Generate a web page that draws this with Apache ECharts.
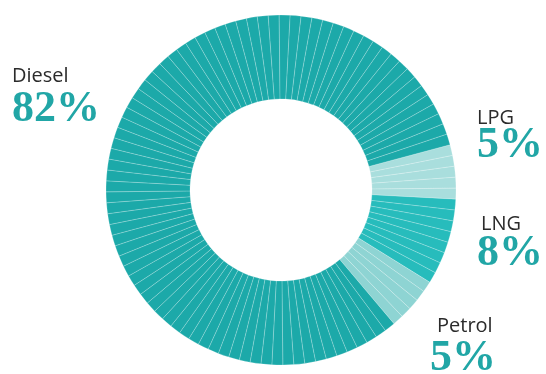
<!DOCTYPE html>
<html>
<head>
<meta charset="utf-8">
<script src="https://cdn.jsdelivr.net/npm/echarts@6/dist/echarts.min.js"></script>
<style>
  html, body { margin: 0; padding: 0; background: #ffffff; }
  #chart { width: 546px; height: 374px; }
</style>
</head>
<body>
<div id="chart"></div>
<script>
// Fuel mix shares (percent), listed clockwise starting from LPG
const categories = ['LPG', 'LNG', 'Petrol', 'Diesel'];
const values = [5, 8, 5, 82];

const sliceColors = {
  LPG: '#a9dedd',
  LNG: '#27bcbc',
  Petrol: '#8ed4d3',
  Diesel: '#1ca9a9'
};

// Label placement for each fuel: name line and percent line
const labelPos = {
  Diesel: { x: 12, nameY: 78, pctY: 110 },
  LPG:    { x: 477, nameY: 120, pctY: 146 },
  LNG:    { x: 481, nameY: 226, pctY: 254, pctX: 477 },
  Petrol: { x: 437, nameY: 328, pctY: 359, pctX: 430 }
};

// Each percentage point becomes its own thin wedge, giving the striped ring
const pieData = [];
categories.forEach((name, i) => {
  for (let k = 0; k < values[i]; k++) {
    pieData.push({
      name: name,
      value: 1,
      itemStyle: { color: sliceColors[name] }
    });
  }
});

const graphics = [];
categories.forEach((name, i) => {
  const p = labelPos[name];
  graphics.push({
    type: 'text',
    left: p.x, top: p.nameY - 12,
    style: {
      text: name,
      fill: '#2b2b2b',
      font: '400 20px "Open Sans", sans-serif'
    },
    silent: true
  });
  graphics.push({
    type: 'text',
    left: (p.pctX !== undefined ? p.pctX : p.x), top: p.pctY - 22,
    style: {
      text: values[i] + '%',
      fill: '#21a6a6',
      font: 'bold 44px "Liberation Serif", serif'
    },
    silent: true
  });
});

const chart = echarts.init(document.getElementById('chart'), null, { renderer: 'canvas' });
chart.setOption({
  animation: false,
  backgroundColor: '#ffffff',
  series: [{
    type: 'pie',
    center: [281, 190],
    radius: [91, 175],
    startAngle: 15,
    clockwise: true,
    label: { show: false },
    labelLine: { show: false },
    emphasis: { disabled: true },
    silent: true,
    itemStyle: {
      borderColor: 'rgba(255,255,255,0.3)',
      borderWidth: 0.7
    },
    data: pieData
  }],
  graphic: graphics
});
</script>
</body>
</html>
